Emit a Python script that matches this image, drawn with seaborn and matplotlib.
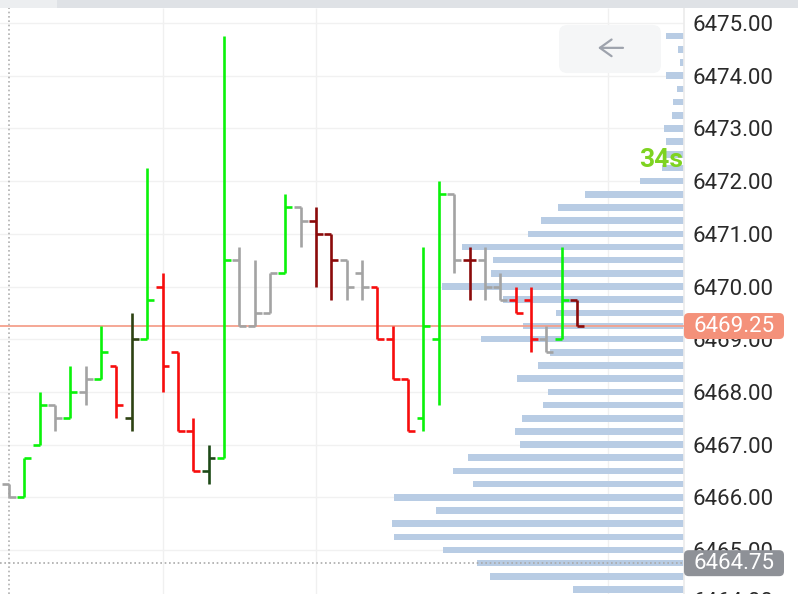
import numpy as np
import matplotlib
matplotlib.use("Agg")
import matplotlib.pyplot as plt
import seaborn as sns
from matplotlib.patches import FancyBboxPatch, Rectangle
from matplotlib.transforms import blended_transform_factory

#---------------------
# OHLC bars (tick chart)

opens = [6466.25, 6466.00, 6467.00, 6467.75, 6467.50, 6468.00, 6468.25, 6468.50,
         6467.50, 6469.00, 6470.00, 6468.75, 6467.25, 6466.50, 6466.75, 6470.50,
         6469.25, 6469.50, 6470.25, 6471.50, 6471.25, 6471.00, 6470.50, 6470.25,
         6470.00, 6469.00, 6468.25, 6467.50, 6469.00, 6471.75, 6470.50, 6470.50,
         6470.00, 6469.75, 6469.75, 6469.00, 6469.00, 6469.75]
highs = [6466.25, 6466.75, 6468.00, 6467.75, 6468.50, 6468.50, 6469.25, 6468.50,
         6469.50, 6472.25, 6470.25, 6468.75, 6467.50, 6467.00, 6474.75, 6470.75,
         6470.50, 6470.25, 6471.75, 6471.50, 6471.50, 6471.00, 6470.50, 6470.50,
         6470.00, 6469.25, 6468.25, 6470.75, 6472.00, 6471.75, 6470.75, 6470.75,
         6470.25, 6470.00, 6470.00, 6469.25, 6470.75, 6469.75]
lows = [6466.00, 6466.00, 6467.00, 6467.25, 6467.50, 6467.75, 6468.25, 6467.50,
        6467.25, 6469.00, 6468.00, 6467.25, 6466.50, 6466.25, 6466.75, 6469.25,
        6469.25, 6469.50, 6470.25, 6470.75, 6470.00, 6469.75, 6469.75, 6469.75,
        6469.00, 6468.25, 6467.25, 6467.25, 6467.75, 6470.25, 6469.75, 6469.75,
        6469.75, 6469.50, 6468.75, 6468.75, 6469.00, 6469.25]
closes = [6466.00, 6466.75, 6467.75, 6467.50, 6468.00, 6468.25, 6468.75, 6467.75,
          6469.00, 6469.75, 6468.50, 6467.25, 6466.50, 6466.75, 6470.50, 6469.25,
          6469.50, 6470.25, 6471.50, 6471.25, 6471.00, 6470.50, 6470.00, 6470.00,
          6469.00, 6468.25, 6467.25, 6469.25, 6471.75, 6470.50, 6470.50, 6470.00,
          6469.75, 6469.50, 6469.00, 6468.75, 6469.75, 6469.25]
bar_kind = ['flat', 'up', 'up', 'flat', 'up', 'flat', 'up', 'down',
            'up_dark', 'up', 'down', 'down', 'down', 'up_dark2', 'up', 'flat',
            'flat', 'flat', 'up', 'flat', 'down_dark', 'down_dark', 'flat', 'flat',
            'down', 'down', 'down', 'up', 'up', 'flat', 'down_dark', 'flat',
            'flat', 'down', 'down', 'flat', 'up', 'down_dark']

# volume profile (price level -> volume)
vp_prices = [6474.75, 6474.50, 6474.25, 6474.00, 6473.75, 6473.50, 6473.25, 6473.00,
             6472.75, 6472.50, 6472.25, 6472.00, 6471.75, 6471.50, 6471.25, 6471.00,
             6470.75, 6470.50, 6470.25, 6470.00, 6469.75, 6469.50, 6469.25, 6469.00,
             6468.75, 6468.50, 6468.25, 6468.00, 6467.75, 6467.50, 6467.25, 6467.00,
             6466.75, 6466.50, 6466.25, 6466.00, 6465.75, 6465.50, 6465.25, 6465.00,
             6464.75, 6464.50, 6464.25]
vp_volume = [18, 6, 4, 18, 7, 11, 12, 20,
             18, 20, 22, 44, 99, 126, 143, 156,
             222, 191, 193, 242, 181, 128, 161, 203,
             134, 146, 167, 136, 141, 162, 169, 164,
             216, 231, 211, 290, 248, 292, 290, 241,
             207, 194, 111]

price_ticks = [6465, 6466, 6467, 6468, 6469, 6470, 6471, 6472, 6473, 6474, 6475]
time_grid = [10, 20, 39]
last_price = 6469.25
marker_price = 6464.75
marker_bar = 0
timer_label = '34s'

#---------------------

colors = {
    'up': '#0af20a', 'down': '#f70d0d', 'flat': '#a3a3a3',
    'down_dark': '#8b0a0a', 'up_dark': '#2d4212', 'up_dark2': '#1d4a17',
}

sns.set_theme(style='white')
plt.rcParams['font.family'] = ['Roboto', 'DejaVu Sans']

W, H = 798, 594
fig = plt.figure(figsize=(W / 100, H / 100), dpi=100)
fig.patch.set_facecolor('white')

plot_w, top_gap = 684, 8
ax = fig.add_axes([0, 0, plot_w / W, (H - top_gap) / H])
ylo, yhi = 6464.165, 6475.285

# volume profile, growing from the price scale to the left
sns.barplot(x=vp_volume, y=vp_prices, orient='y', native_scale=True, width=0.5,
            color='#b8cce4', saturation=1, linewidth=0, errorbar=None, ax=ax)
ax.set_xlim(plot_w, 0)
ax.set_ylim(ylo, yhi)
ax.set_xlabel('')
ax.set_ylabel('')
ax.set_xticks([])
ax.set_yticks(price_ticks)
ax.set_yticklabels([f'{p:.2f}' for p in price_ticks])
ax.yaxis.tick_right()
ax.tick_params(axis='y', length=0, pad=6, labelsize=16, labelcolor='#2a2a2a')
ax.grid(axis='y', color='#f1f1f1', lw=1)
ax.set_axisbelow(True)
for s in ['top', 'left', 'bottom']:
    ax.spines[s].set_visible(False)
ax.spines['right'].set_color('#ececec')

ax.axhline(last_price, color='#f4a08c', lw=1.3, zorder=3)
ax.axhline(marker_price, color='#aaaaaa', lw=1.2, ls=(0, (1, 1.6)), zorder=3)

# OHLC bars on a twin x axis (bar index)
axo = ax.twiny()
idx = np.arange(len(opens))
cols = [colors[k] for k in bar_kind]
tick = 0.45
axo.set_xlim(-0.586, 43.97)
axo.set_xticks([])
for s in axo.spines.values():
    s.set_visible(False)

# time grid sits under the volume profile
ax.vlines(time_grid, 0, 1, transform=blended_transform_factory(axo.transData, ax.transAxes),
          color='#f0f0f0', lw=1, zorder=0.5)

axo.axvline(marker_bar, color='#b0b0b0', lw=1.2, ls=(0, (1, 1.6)), zorder=1)
axo.vlines(idx, lows, highs, colors=cols, lw=1.9, zorder=4)
axo.hlines(opens, idx - tick, idx, colors=cols, lw=1.9, zorder=4)
axo.hlines(closes, idx, idx + tick, colors=cols, lw=1.9, zorder=4)
axo.set_ylim(ylo, yhi)

# price labels on the scale
bt = blended_transform_factory(ax.transAxes, ax.transData)
ax.text(1.0, 6464.0, '6464.00', transform=bt, ha='left', va='center',
        fontsize=16, color='#2a2a2a', clip_on=False)
ax.texts[-1].set_x(1.0 + 9 / plot_w)
box_w = 100 / plot_w
box_h = 13 / 52.7
for price, fc in [(last_price, '#f4917a'), (marker_price, '#8e9197')]:
    ax.add_patch(FancyBboxPatch((1.0, price - box_h), box_w, 2 * box_h,
                                boxstyle='round,pad=0,rounding_size=0.007',
                                mutation_aspect=plot_w / 52.7, transform=bt,
                                fc=fc, ec='none', clip_on=False, zorder=6))
    ax.text(1.0 + box_w / 2, price, f'{price:.2f}', transform=bt, ha='center',
            va='center', fontsize=16, color='white', clip_on=False, zorder=7)

# countdown label
ax.text(0.998, 6472.4, timer_label, transform=bt, ha='right', va='center',
        fontsize=19, fontweight='bold', color='#7ed321', zorder=8)

# scroll-back button
ax.add_patch(FancyBboxPatch((559 / plot_w, 0.889), 102 / plot_w, 0.082,
                            boxstyle='round,pad=0,rounding_size=0.012',
                            mutation_aspect=plot_w / (H - top_gap),
                            transform=ax.transAxes, fc='#f5f6f7', ec='none', zorder=6))
ax.annotate('', xy=(598 / plot_w, 0.932), xytext=(623 / plot_w, 0.932),
            xycoords='axes fraction',
            arrowprops=dict(arrowstyle='->,head_length=0.7,head_width=0.5',
                            color='#9ea3ad', lw=1.6, shrinkA=0, shrinkB=0),
            zorder=7)

# top strip
fig.add_artist(Rectangle((0, 1 - top_gap / H), 57 / W, top_gap / H,
                         transform=fig.transFigure, fc='#eceef0', ec='none'))
fig.add_artist(Rectangle((57 / W, 1 - top_gap / H), 1 - 57 / W, top_gap / H,
                         transform=fig.transFigure, fc='#dfe2e6', ec='none'))

fig.savefig('out.png', dpi=100)
